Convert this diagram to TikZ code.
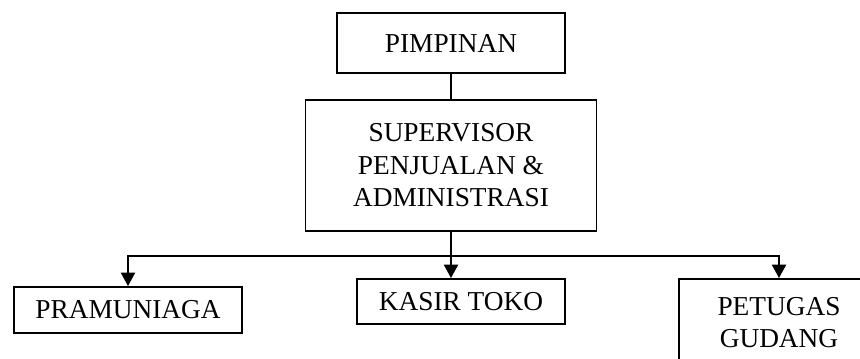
\documentclass[tikz,border=0pt]{standalone}
\usepackage{fontspec}
\setmainfont{Liberation Serif}
\usetikzlibrary{arrows.meta}

\begin{document}
\begin{tikzpicture}[x=0.75pt,y=-0.75pt,
    orgbox/.style={draw,line width=1.4pt,align=center,inner sep=0pt,
      font=\fontsize{20.5}{24.4}\selectfont},
    link/.style={line width=1.4pt},
    arrowlink/.style={link,-{Triangle[length=10pt,width=10.5pt]}}]

% Canvas (the gudang box runs off the page)
\useasboundingbox (0,0) rectangle (860,358);
\clip (0,0) rectangle (860,358);

% Boxes
\node[orgbox,minimum width=228*0.75pt,minimum height=60*0.75pt] (pimpinan) at (451,43) {PIMPINAN};
\node[orgbox,minimum width=291*0.75pt,minimum height=131*0.75pt] (supervisor) at (451,165.5) {SUPERVISOR\\PENJUALAN \&\\ADMINISTRASI};
\node[orgbox,minimum width=228*0.75pt,minimum height=46*0.75pt] (pramuniaga) at (128,310) {PRAMUNIAGA};
\node[orgbox,minimum width=200*0.75pt,minimum height=87*0.75pt] (petugas) at (779,322.5) {PETUGAS\\GUDANG};
\node[orgbox,minimum width=208*0.75pt,minimum height=45*0.75pt] (kasir) at (461,301.5) {KASIR TOKO};

% Connectors
\coordinate (bus) at (451,256);
\draw[link] (pimpinan.south) -- (supervisor.north);
\draw[arrowlink] (supervisor.south) -- (supervisor.south |- kasir.north);
\draw[arrowlink] (bus) -| (pramuniaga.north); % left branch
\draw[arrowlink] (bus) -| (petugas.north); % right branch

\end{tikzpicture}
\end{document}
